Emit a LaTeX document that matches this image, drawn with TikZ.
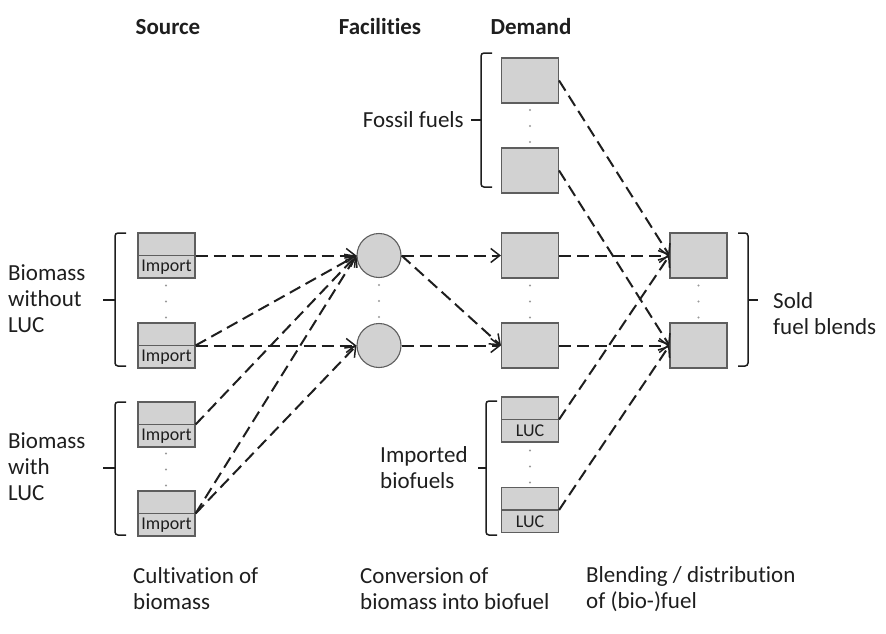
\documentclass[tikz,border=0pt]{standalone}
\usepackage{fontspec}
\setmainfont{Carlito}[Ligatures={NoCommon}]
\usetikzlibrary{arrows.meta,calc}
\definecolor{boxfill}{HTML}{D2D2D2}
\definecolor{boxline}{HTML}{5E5E5E}
\definecolor{ink}{HTML}{1E1E1E}
\begin{document}
\begin{tikzpicture}[x=1pt,y=-1pt,
  every node/.style={text=ink},
  txt/.style={font=\fontsize{23}{26}\selectfont, align=left, inner sep=0pt},
  hdr/.style={font=\fontsize{23}{26}\selectfont\bfseries, inner sep=0pt},
  cell/.style={draw=boxline, fill=boxfill, line width=1.1pt, minimum width=57pt, minimum height=45pt, inner sep=0pt},
  plant/.style={circle, draw=boxline, fill=boxfill, line width=1.1pt, minimum size=44pt, inner sep=0pt},
  tag/.style={font=\fontsize{18}{20}\selectfont, inner sep=0pt},
  flow/.style={draw=ink, line width=2pt, dash pattern=on 12pt off 6pt,
    -{Straight Barb[length=9pt,width=14pt,line width=1.5pt]}},
  brk/.style={draw=ink, line width=1.5pt, rounded corners=3pt},
  dotc/.style={fill=gray!80, draw=none}
]
\useasboundingbox (0,0) rectangle (886,633);

% column headings
\node[hdr] (hsrc) at (168,27) {Source};
\node[hdr] (hfac) at (380,27) {Facilities};
\node[hdr] (hdem) at (531,27) {Demand};

% source cells (split, with Import in the lower half)
\foreach \n/\y in {s1/255.5, s2/345.5, s3/424.5, s4/513.5}{
  \node[cell] (\n) at (166.5,\y) {};
  \draw[boxline, line width=1.1pt] (\n.west) -- (\n.east);
  \node[tag] (\n t) at ($(\n.center)!0.5!(\n.south)$) {Import};
}

% conversion facilities
\node[plant] (c1) at (379,255.5) {};
\node[plant] (c2) at (379,345.5) {};

% demand column
\node[cell] (f1) at (530,80.5) {};
\node[cell] (f2) at (530,170.5) {};
\node[cell] (m1) at (530,255.5) {};
\node[cell] (m2) at (530,345.5) {};
\foreach \n/\y in {l1/419.5, l2/510}{
  \node[cell] (\n) at (530,\y) {};
  \draw[boxline, line width=1.1pt] (\n.west) -- (\n.east);
  \node[tag] (\n t) at ($(\n.center)!0.5!(\n.south)$) {LUC};
}

% sold blends
\node[cell] (r1) at (698.5,255.5) {};
\node[cell] (r2) at (698.5,345.5) {};

% ellipsis dots between stacked items
\foreach \x/\y in {166/301.5, 166/469.5, 379/301, 530/126, 530/301.5, 530/466.5, 698.5/301.5}{
  \foreach \d in {-16,0,16}{
    \fill[dotc] (\x,\y+\d) circle (1.1pt);
  }
}

% braces
\draw[brk] (126,233) -| (115,366) -- (126,366);
\draw[brk] (115,300) -- (103,300);
\draw[brk] (126,402) -| (115,535) -- (126,535);
\draw[brk] (115,468) -- (103,468);
\draw[brk] (492,53) -| (481,187) -- (492,187);
\draw[brk] (481,120) -- (471,120);
\draw[brk] (497,401) -| (486,535) -- (497,535);
\draw[brk] (486,468) -- (478,468);
\draw[brk] (738,233) -| (748,366) -- (738,366);
\draw[brk] (748,300) -- (758,300);

% labels
\node[txt, anchor=west] (lbw) at (8,299) {Biomass\\without\\LUC};
\node[txt, anchor=west] (lbl) at (8,467) {Biomass\\with\\LUC};
\node[txt, anchor=east] (lff) at (464,120) {Fossil fuels};
\node[txt, anchor=west] (lib) at (380,468) {Imported\\biofuels};
\node[txt, anchor=west] (lsf) at (773,314) {Sold\\fuel blends};

% stage captions
\node[txt, anchor=west] (cap1) at (133,589) {Cultivation of\\biomass};
\node[txt, anchor=west] (cap2) at (360,589) {Conversion of\\biomass into biofuel};
\node[txt, anchor=west] (cap3) at (586,589) {Blending / distribution\\of (bio-)fuel};

% flows: cultivation to conversion
\draw[flow] (s1.east) -- (c1.west);
\draw[flow] (s2.east) -- (c1.west);
\draw[flow] (s2.east) -- (c2.west);
\draw[flow] (s3.east) -- (c1.west);
\draw[flow] (s4.east) -- (c1.west);
\draw[flow] (s4.east) -- (c2.west);

% flows: conversion to demand
\draw[flow] (c1.east) -- (m1.west);
\draw[flow] (c1.east) -- (m2.west);
\draw[flow] (c2.east) -- (m2.west);

% flows: blending into sold fuels
\draw[flow] (f1.east) -- (r1.west);
\draw[flow] (f2.east) -- (r2.west);
\draw[flow] (m1.east) -- (r1.west);
\draw[flow] (m2.east) -- (r2.west);
\draw[flow] (l1.east) -- (r1.west);
\draw[flow] (l2.east) -- (r2.west);
\end{tikzpicture}
\end{document}
